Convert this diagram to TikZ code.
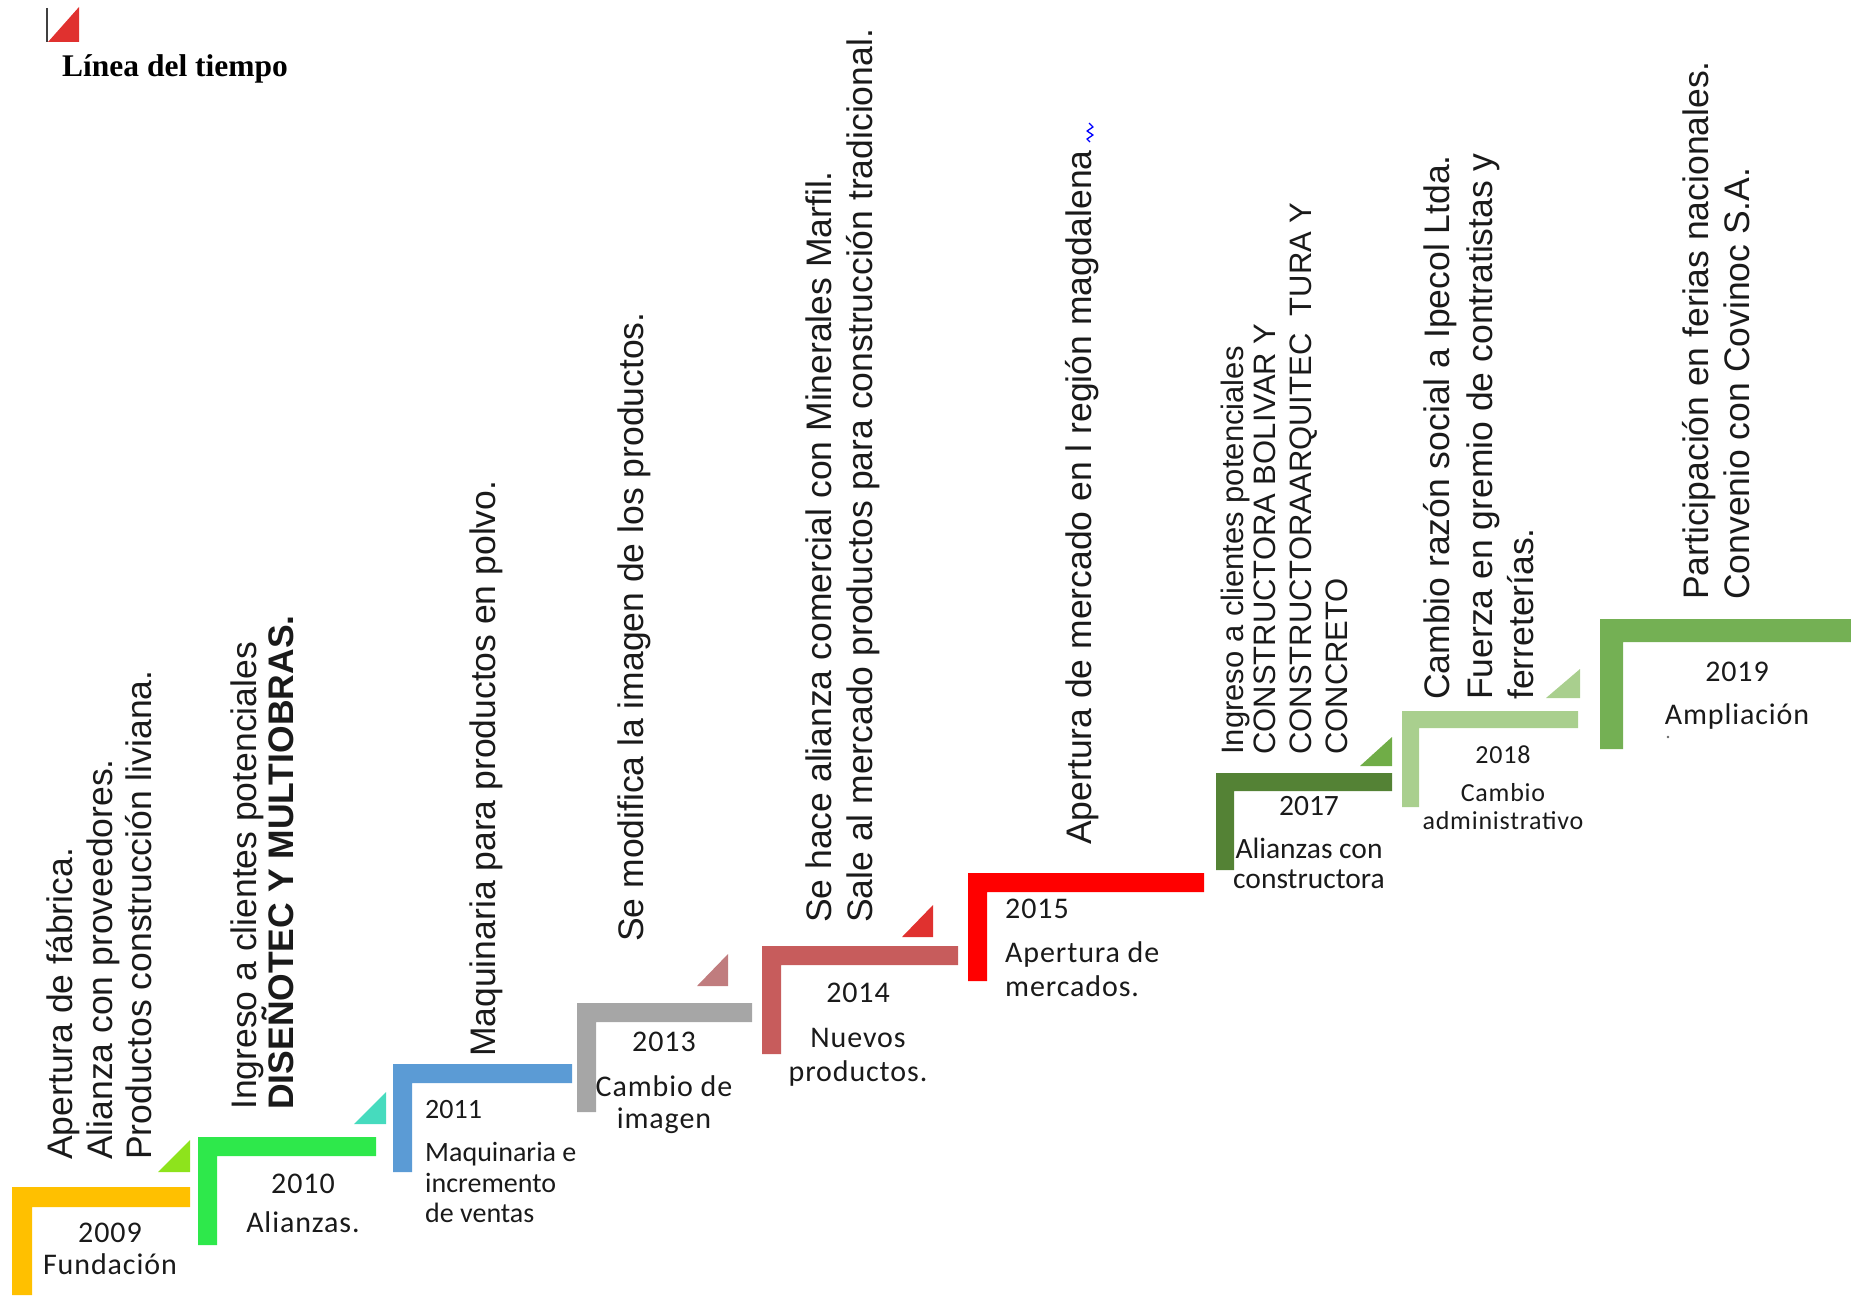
\documentclass[tikz,border=0pt]{standalone}
\usepackage{fontspec}
\newfontfamily\arialf{Liberation Sans}
\newfontfamily\calf{Carlito}
\newfontfamily\calfw[LetterSpace=3]{Carlito}
\newfontfamily\timesf{Liberation Serif}

\definecolor{ink}{HTML}{1A1A1A}
\definecolor{c09}{HTML}{FFC000}
\definecolor{t09}{HTML}{8EE31C}
\definecolor{c10}{HTML}{2EE84B}
\definecolor{t10}{HTML}{46DBBE}
\definecolor{c11}{HTML}{5B9BD5}
\definecolor{c13}{HTML}{A6A6A6}
\definecolor{t13}{HTML}{C07C7E}
\definecolor{c14}{HTML}{C75C5C}
\definecolor{t14}{HTML}{E0312F}
\definecolor{c15}{HTML}{FF0000}
\definecolor{c17}{HTML}{548235}
\definecolor{t17}{HTML}{70AD47}
\definecolor{c18}{HTML}{A9CF8E}
\definecolor{c19}{HTML}{74B054}

% L-shaped step: left x, top y, right x, bottom y, bar thickness, colour
\newcommand\elbow[6]{%
  \fill[#6] (#1,#2) -- (#3,#2) -- (#3,#2+#5) -- (#1+#5,#2+#5)
            -- (#1+#5,#4) -- (#1,#4) -- cycle;}
% small right-angled flag: left x, right x, top y, bottom y, colour
\newcommand\notch[5]{\fill[#5] (#1,#4) -- (#2,#4) -- (#2,#3) -- cycle;}

\tikzset{
  event/.style={rotate=90, anchor=base west, inner sep=0pt, text=ink,
                font=\arialf\fontsize{35.5}{40}\selectfont},
  eventsm/.style={event, font=\arialf\fontsize{31}{34}\selectfont},
  yr/.style={anchor=base, inner sep=0pt, text=ink,
             font=\calfw\fontsize{30}{34}\selectfont},
  yrl/.style={yr, anchor=base west},
  yrn/.style={yrl, font=\calf\fontsize{28}{32}\selectfont},
  yrm/.style={yr, font=\calf\fontsize{29.5}{33}\selectfont},
  yrs/.style={yr, font=\calfw\fontsize{26}{29}\selectfont},
  title/.style={anchor=base west, inner sep=0pt, text=black,
                font=\timesf\bfseries\fontsize{31.5}{36}\selectfont},
}

\begin{document}
\begin{tikzpicture}[x=1pt, y=-1pt]
\useasboundingbox (0,0) rectangle (1851,1295);

% heading
\draw[line width=2pt, black!75] (47,8) -- (47,42);
\notch{48}{79}{7}{42}{t14}
\node[title] (title) at (62,77) {Línea del tiempo};

% steps of the timeline
\elbow{12}{1187}{190}{1295}{20}{c09}
\notch{158}{190}{1140}{1172}{t09}
\elbow{198}{1137}{376}{1245}{19}{c10}
\notch{354}{386}{1092}{1124}{t10}
\elbow{393}{1064}{572}{1172}{19}{c11}
\elbow{577}{1003}{752}{1112}{19}{c13}
\notch{697}{728}{954}{986}{t13}
\elbow{762}{946}{958}{1054}{19}{c14}
\notch{902}{933}{905}{937}{t14}
\elbow{968}{873}{1204}{981}{19}{c15}
\elbow{1216}{773}{1392}{870}{18}{c17}
\notch{1360}{1392}{737}{766}{t17}
\elbow{1402}{711}{1578}{807}{17}{c18}
\notch{1546}{1580}{669}{698}{c18}
\elbow{1600}{619}{1851}{749}{23}{c19}

% events, written upwards
\node[event] (e09a) at (72,1160) {Apertura de fábrica.};
\node[event] (e09b) at (112,1160) {Alianza con proveedores.};
\node[event] (e09c) at (151,1160) {Productos construcción liviana.};

\node[event] (e10a) at (256,1110) {Ingreso a clientes potenciales};
\node[event] (e10b) at (293,1110) {\bfseries DISEÑOTEC Y MULTIOBRAS.};

\node[event] (e11a) at (495,1057) {Maquinaria para productos en polvo.};

\node[event] (e13a) at (643,942) {Se modifica la imagen de los productos.};

\node[event] (e14a) at (831,923) {Se hace alianza comercial con Minerales Marfil.};
\node[event] (e14b) at (872,923) {Sale al mercado productos para construcción tradicional.};

\node[event] (e15a) at (1091,845) {Apertura de mercado en l región magdalena};
\draw[blue, line width=1.3pt, line join=round]
  (1089,123) -- (1093,127) -- (1087,131) -- (1093,135) -- (1087,139) -- (1090,142);

\node[eventsm] (e17a) at (1243,755) {Ingreso a clientes potenciales};
\node[eventsm] (e17b) at (1275,755) {CONSTRUCTORA BOLIVAR Y};
\node[eventsm] (e17c) at (1311,755) {CONSTRUCTORAARQUITEC\ \ TURA Y};
\node[eventsm] (e17d) at (1347,755) {CONCRETO};

\node[event] (e18a) at (1449,700) {Cambio razón social a Ipecol Ltda.};
\node[event] (e18b) at (1492,700) {Fuerza en gremio de contratistas y};
\node[event] (e18c) at (1533,700) {ferreterías.};

\node[event] (e19a) at (1708,600) {Participación en ferias nacionales.};
\node[event] (e19b) at (1749,600) {Convenio con Covinoc S.A.};

% year captions
\node[yr] (y09) at (110,1242) {2009};
\node[yr] (y09a) at (110,1274) {Fundación};

\node[yr] (y10) at (303,1193) {2010};
\node[yr] (y10a) at (303,1232) {Alianzas.};

\node[yrn] (y11) at (425,1118) {2011};
\node[yrn] (y11a) at (425,1161) {Maquinaria e};
\node[yrn] (y11b) at (425,1192) {incremento};
\node[yrn] (y11c) at (425,1222) {de ventas};

\node[yr] (y13) at (664,1051) {2013};
\node[yr] (y13a) at (664,1096) {Cambio de};
\node[yr] (y13b) at (664,1128) {imagen};

\node[yr] (y14) at (858,1002) {2014};
\node[yr] (y14a) at (858,1047) {Nuevos};
\node[yr] (y14b) at (858,1081) {productos.};

\node[yrl] (y15) at (1005,918) {2015};
\node[yrl] (y15a) at (1005,962) {Apertura de};
\node[yrl] (y15b) at (1005,996) {mercados.};

\node[yrm] (y17) at (1309,815) {2017};
\node[yrm] (y17a) at (1309,858) {Alianzas con};
\node[yrm] (y17b) at (1309,888) {constructora};

\node[yrs] (y18) at (1503,763) {2018};
\node[yrs] (y18a) at (1503,801) {Cambio};
\node[yrs] (y18b) at (1503,829) {administrativo};

\node[yr] (y19) at (1737,681) {2019};
\node[yr] (y19a) at (1737,724) {Ampliación};
\fill[black!60] (1668,737) circle (1.3);
\end{tikzpicture}
\end{document}
